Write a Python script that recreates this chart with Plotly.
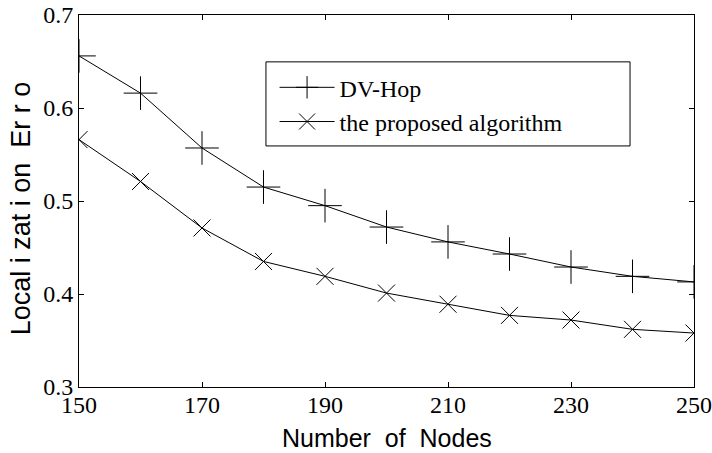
import plotly.graph_objects as go

nodes = [150, 160, 170, 180, 190, 200, 210, 220, 230, 240, 250]
dv_hop = [0.656, 0.616, 0.557, 0.515, 0.495, 0.472, 0.456, 0.443, 0.429, 0.419, 0.413]
proposed = [0.566, 0.521, 0.471, 0.435, 0.419, 0.401, 0.389, 0.377, 0.372, 0.362, 0.358]
x_ticks = [150, 170, 190, 210, 230, 250]
y_ticks = [0.3, 0.4, 0.5, 0.6, 0.7]

fig = go.Figure()
fig.add_trace(go.Scatter(
    x=nodes, y=dv_hop, mode="lines+markers", name="DV-Hop",
    line=dict(color="black", width=1),
    marker=dict(symbol="cross-thin", size=24, color="black",
                line=dict(color="black", width=1)),
))
fig.add_trace(go.Scatter(
    x=nodes, y=proposed, mode="lines+markers", name="the proposed algorithm",
    line=dict(color="black", width=1),
    marker=dict(symbol="x-thin", size=17, color="black",
                line=dict(color="black", width=1)),
))

axis_common = dict(
    showgrid=False, zeroline=False, showline=True, linecolor="black", linewidth=1,
    mirror="ticks", ticks="inside", ticklen=5, tickcolor="black", automargin=False,
    tickfont=dict(family="Liberation Serif", size=24, color="black"),
)
fig.update_xaxes(range=[150, 250], tickvals=x_ticks, ticktext=[str(v) for v in x_ticks],
                 ticklabelstandoff=-4, **axis_common)
fig.update_yaxes(range=[0.3, 0.7], tickvals=y_ticks, ticktext=[f"{v:.1f}" for v in y_ticks],
                 **axis_common)

fig.add_annotation(text="Number  of  Nodes", xref="paper", yref="paper",
                   x=0.5, y=-0.138, xanchor="center", yanchor="middle",
                   showarrow=False, font=dict(family="Liberation Sans", size=25, color="black"))
fig.add_annotation(text="Local i zat i on  Er r o", xref="paper", yref="paper",
                   x=-0.093, y=0.48, xanchor="center", yanchor="middle", textangle=-90,
                   showarrow=False, font=dict(family="Liberation Sans", size=27, color="black"))

fig.add_shape(type="rect", xref="paper", yref="paper",
              x0=0.304, x1=0.896, y0=0.648, y1=0.874,
              line=dict(color="black", width=1), fillcolor="rgba(0,0,0,0)")

fig.update_layout(
    width=712, height=453,
    margin=dict(l=79, r=18, t=15, b=66),
    paper_bgcolor="white", plot_bgcolor="white",
    showlegend=True,
    legend=dict(x=0.318, y=0.865, xanchor="left", yanchor="top", itemwidth=55,
                bgcolor="rgba(0,0,0,0)", borderwidth=0,
                font=dict(family="Liberation Serif", size=24, color="black")),
)

fig.write_html("out.html", config={"displayModeBar": False, "staticPlot": True},
               post_script="document.body.style.margin='0';document.body.style.overflow='hidden';")
